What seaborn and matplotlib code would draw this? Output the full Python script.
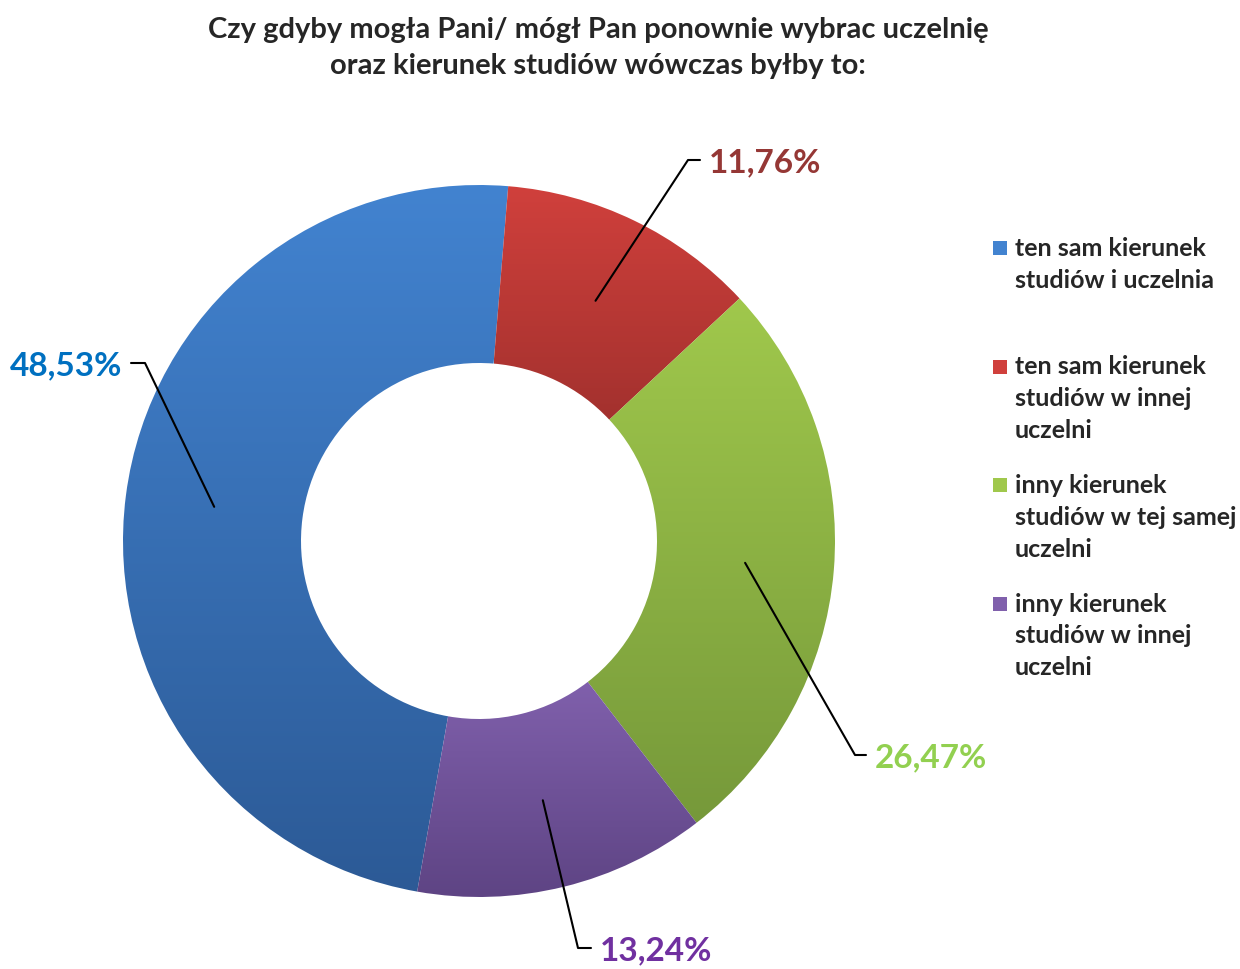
import numpy as np
import seaborn as sns
import matplotlib.pyplot as plt
from matplotlib.patches import Rectangle
from matplotlib.colors import LinearSegmentedColormap

# --- data ---
categories = ["ten sam kierunek\nstudiów i uczelnia",
              "ten sam kierunek\nstudiów w innej\nuczelni",
              "inny kierunek\nstudiów w tej samej\nuczelni",
              "inny kierunek\nstudiów w innej\nuczelni"]
values = [48.53, 11.76, 26.47, 13.24]
value_labels = ["48,53%", "11,76%", "26,47%", "13,24%"]

# slice gradients (top, bottom) and label colours
grad_top = ["#4283d0", "#d0403c", "#a0c84c", "#8060ac"]
grad_bottom = ["#2c5a96", "#a3312e", "#76993a", "#5e4484"]
label_colors = ["#0070c0", "#953735", "#92d050", "#7030a0"]

sns.set_style("white")
plt.rcParams['font.family'] = ['Lato', 'DejaVu Sans']

W, H = 1240, 969
fig = plt.figure(figsize=(W / 100, H / 100), dpi=100)

# pie axes: centre (479, 541) px, radius 356 px
cx, cy, R = 479, 541, 356
ax = fig.add_axes([(cx - R) / W, (H - cy - R) / H, 2 * R / W, 2 * R / H])
wedges, _ = ax.pie(values, startangle=-100, counterclock=False, radius=1,
                   wedgeprops=dict(width=0.5, linewidth=0))
ax.set_aspect('equal')
ax.axis('off')

# vertical gradient per slice
for w, c0, c1 in zip(wedges, grad_top, grad_bottom):
    ext = w.get_patch_transform().transform_path(w.get_path()).get_extents()
    cmap = LinearSegmentedColormap.from_list("g", [c1, c0])
    grad = np.linspace(0, 1, 256).reshape(-1, 1)
    im = ax.imshow(grad, cmap=cmap, origin='lower', aspect='auto',
                   extent=[ext.x0, ext.x1, ext.y0, ext.y1], zorder=1)
    im.set_clip_path(w)
    w.set_facecolor('none')
ax.set_xlim(-1, 1)
ax.set_ylim(-1, 1)


def px(x, y):
    return (x - cx) / R, (cy - y) / R


# leader lines + value labels (elbow, end point in px, alignment)
label_pos = [((145, 363), (131, 363), 'right'),
             ((688, 160), (700, 160), 'left'),
             ((855, 755), (866, 755), 'left'),
             ((578, 948), (591, 948), 'left')]
for i, lab in enumerate(value_labels):
    t1, t2 = wedges[i].theta1, wedges[i].theta2
    mid = np.deg2rad((t1 + t2) / 2)
    p0 = (0.75 * np.cos(mid), 0.75 * np.sin(mid))
    (ex, ey), (fx, fy), ha = label_pos[i]
    p1 = px(ex, ey)
    p2 = px(fx, fy)
    ax.plot([p0[0], p1[0], p2[0]], [p0[1], p1[1], p2[1]], color='black',
            lw=1.5, clip_on=False, zorder=3)
    tx = fx - 9 if ha == 'right' else fx + 9
    ax.text(*px(tx, fy + 3), lab, ha=ha, va='center', fontsize=24,
            fontweight='bold', color=label_colors[i], clip_on=False)

# title
fig.text(598 / W, 1 - 48 / H,
         "Czy gdyby mogła Pani/ mógł Pan ponownie wybrac uczelnię\n"
         "oraz kierunek studiów wówczas byłby to:",
         ha='center', va='center', fontsize=21, fontweight='bold',
         linespacing=1.5)

# legend
for i, lab in enumerate(categories):
    y = 248 + i * 118.5
    fig.patches.append(Rectangle((993 / W, 1 - (y + 7) / H), 14 / W, 14 / H,
                                 transform=fig.transFigure, figure=fig,
                                 facecolor=grad_top[i], edgecolor='none'))
    fig.text(1015 / W, 1 - (y - 11) / H, lab, ha='left', va='top',
             fontsize=18, fontweight='bold', linespacing=1.47)

plt.savefig("out.png", dpi=100)
